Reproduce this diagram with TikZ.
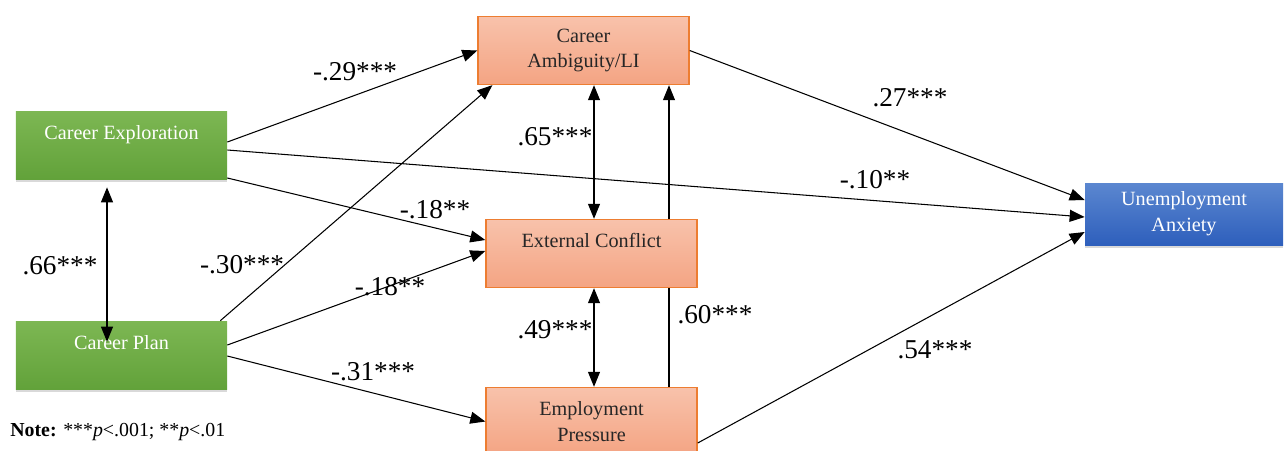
\documentclass[tikz,border=0pt]{standalone}
\usepackage{fontspec}
\setmainfont{Liberation Serif}
\usetikzlibrary{arrows.meta,shadows}
\definecolor{grntop}{HTML}{7DB753}
\definecolor{grnbot}{HTML}{62A23A}
\definecolor{orgtop}{HTML}{F8C2AB}
\definecolor{orgbot}{HTML}{F4A483}
\definecolor{orgline}{HTML}{ED7D31}
\definecolor{blutop}{HTML}{5B87D0}
\definecolor{blubot}{HTML}{2E5FBC}
\tikzset{
    box/.style={rectangle, minimum width=4.22cm, minimum height=1.36cm,
    	align=center, inner sep=2pt, font=\fontsize{11.5}{14.7}\selectfont},
    pred/.style={box, top color=grntop, bottom color=grnbot, text=white,
    	drop shadow={shadow xshift=0pt, shadow yshift=-1.5pt, opacity=.3}},
    med/.style={box, draw=orgline, line width=.8pt, top color=orgtop,
    	bottom color=orgbot, text=black!85},
    outc/.style={box, minimum width=3.96cm, minimum height=1.24cm,
    	top color=blutop, bottom color=blubot, text=white,
    	drop shadow={shadow xshift=0pt, shadow yshift=-1.5pt, opacity=.3}},
    coef/.style={font=\fontsize{15.5}{17}\selectfont, inner sep=0pt}
}
\tikzset{
    every edge/.append style={line width=.6pt, ->}
}
\pgfdeclarelayer{background}
\pgfsetlayers{background,main}

\begin{document}
\begin{tikzpicture}[>={Triangle[length=3mm,width=2.4mm]}]
  \useasboundingbox (0,0) rectangle (25.7,-9);
  \clip (0,0) rectangle (25.7,-9);

  \node (expl) [pred] at (2.43cm, -2.90cm) {Career Exploration\\ \mbox{}};
  \node (plan) [pred] at (2.43cm, -7.10cm) {Career Plan\\ \mbox{}};
  \node (ambig) [med] at (11.67cm, -1.01cm) {Career\\ Ambiguity/LI};
  \node (confl) [med] at (11.83cm, -5.07cm) {External Conflict\\ \mbox{}};
  \node (press) [med] at (11.83cm, -8.43cm) {Employment\\ Pressure};
  \node (anx) [outc] at (23.68cm, -4.28cm) {Unemployment\\ Anxiety};

  \node (c66) [coef] at (1.2cm, -5.32cm) {.66***};
  \node (c29) [coef] at (7.1cm, -1.44cm) {-.29***};
  \node (c30) [coef] at (4.84cm, -5.3cm) {-.30***};
  \node (c18a) [coef] at (8.7cm, -4.2cm) {-.18**};
  \node (c18b) [coef] at (7.8cm, -5.74cm) {-.18**};
  \node (c31) [coef] at (7.46cm, -7.44cm) {-.31***};
  \node (c65) [coef] at (11.1cm, -2.74cm) {.65***};
  \node (c49) [coef] at (11.1cm, -6.6cm) {.49***};
  \node (c60) [coef] at (14.3cm, -6.3cm) {.60***};
  \node (c27) [coef] at (18.2cm, -1.96cm) {.27***};
  \node (c10) [coef] at (17.5cm, -3.6cm) {-.10**};
  \node (c54) [coef] at (18.7cm, -7.0cm) {.54***};

  \node (note) [anchor=west, inner sep=0pt, font=\fontsize{11.3}{13}\selectfont]
  	at (0.2cm, -8.64cm) {\textbf{Note:} ***\textit{p}<.001; **\textit{p}<.01};

  \begin{pgfonlayer}{background}
  \draw ([xshift=1.55cm]press.north) edge ([xshift=1.55cm]press.north |- ambig.south);
  \end{pgfonlayer}

  \draw ([yshift=.06cm]expl.east) edge (ambig.west);
  \draw ([yshift=-.1cm]expl.east) edge ([yshift=-.06cm]anx.west);
  \draw ([yshift=-.66cm]expl.east) edge ([yshift=.27cm]confl.west);
  \draw ([xshift=-.14cm]plan.north east) edge ([xshift=.3cm]ambig.south west);
  \draw ([yshift=.2cm]plan.east) edge ([yshift=.05cm]confl.west);
  \draw ([yshift=-.02cm]plan.east) edge (press.west);
  \draw (ambig.east) edge ([yshift=.28cm]anx.west);
  \draw ([yshift=-.43cm]press.east) edge ([yshift=-.36cm]anx.west);

  \draw ([xshift=.05cm]confl.north) edge [<->] ([xshift=.05cm]confl.north |- ambig.south);
  \draw ([xshift=.05cm]press.north) edge [<->] ([xshift=.05cm]confl.south);
  \draw ([xshift=-.29cm, yshift=-.16cm]expl.south) edge [<->]
  	([xshift=-.29cm, yshift=-.42cm]plan.north);
\end{tikzpicture}
\end{document}
